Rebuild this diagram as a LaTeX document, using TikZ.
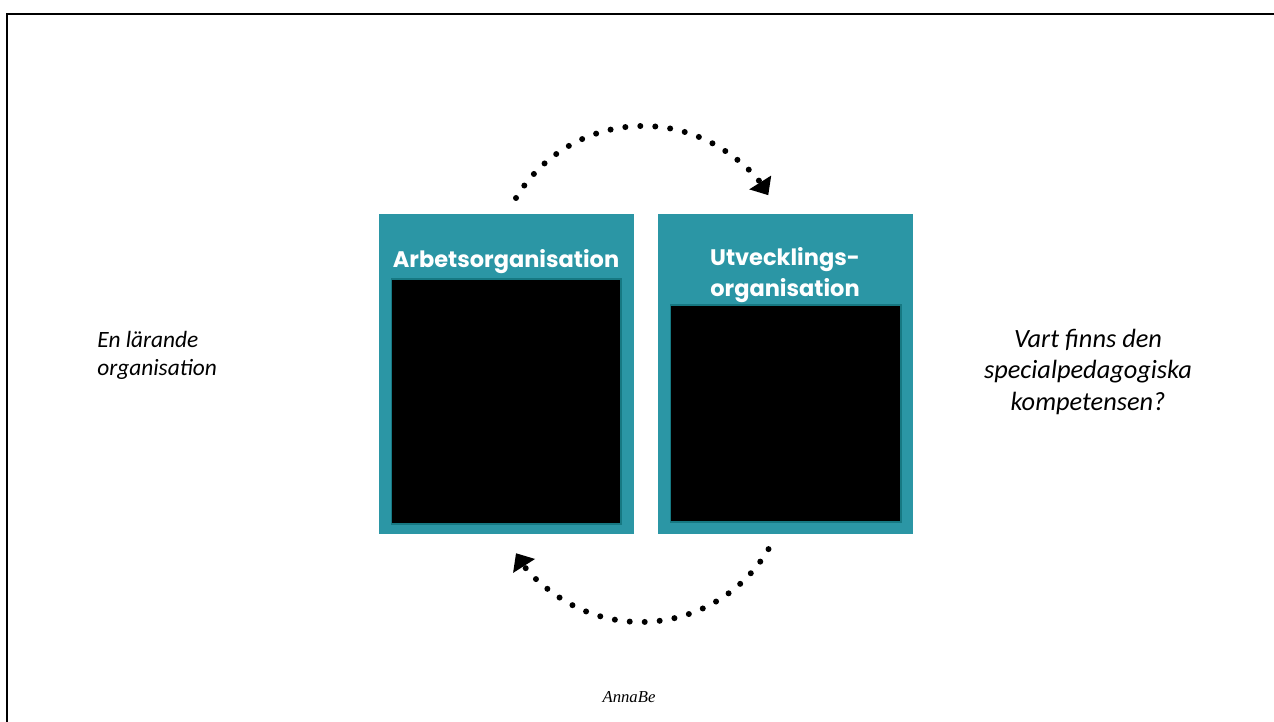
\documentclass[tikz,border=0pt]{standalone}
\usepackage{fontspec}
\setmainfont{Carlito}
\newfontfamily\headfont{Poppins}
\newfontfamily\signfont{Liberation Serif}
\usetikzlibrary{arrows.meta}
\definecolor{tealbg}{RGB}{43,150,165}
\definecolor{tealedge}{RGB}{22,120,130}
\begin{document}
\begin{tikzpicture}[x=0.02cm,y=-0.02cm,
  outerbox/.style={fill=tealbg, draw=none, inner sep=0, minimum width=5.1cm, minimum height=6.4cm},
  innerbox/.style={fill=black, draw=tealedge, line width=0.6pt, inner sep=0},
  head/.style={text=white, font=\headfont\bfseries\fontsize{12.8}{17.9}\selectfont, align=center, inner sep=0},
  side/.style={inner sep=0},
  dotarc/.style={line width=0.12cm, line cap=round, dash pattern=on 0pt off 0.3cm,
    -{Triangle[width=0.52cm,length=0.3cm,line width=0pt]}}]
\useasboundingbox (0,0) rectangle (1274,722);
\fill[white] (0,0) rectangle (1274,722);
\draw[line width=0.045cm] (6.7,722) -- (6.7,13.7) -- (1274,13.7);

% boxes
\node[outerbox] (arb) at (506.5,374) {};
\node[outerbox] (utv) at (785.5,374) {};
\node[innerbox, minimum width=4.6cm, minimum height=4.9cm] (arbin) at (506,401.5) {};
\node[innerbox, minimum width=4.62cm, minimum height=4.34cm] (utvin) at (785.5,413.5) {};

% headings (base anchor = last line)
\node[head, anchor=base] (arbh) at (506,268) {Arbetsorganisation};
\node[head, anchor=base] (utvh) at (785,296.5) {Utvecklings-\\organisation};

% cycle arrows
\coordinate (ts) at (516,198);
\draw[dotarc] (ts) arc[start angle=210.9, end angle=327.8, radius=148];
\coordinate (bs) at (768.5,549.1);
\draw[dotarc] (bs) arc[start angle=30.5, end angle=147.6, radius=148];

% side texts
\node[side, align=left, anchor=base west, font=\itshape\fontsize{13.3}{16.1}\selectfont] (lt) at (97,375.5) {En lärande\\organisation};
\node[side, align=center, anchor=base, font=\itshape\fontsize{15}{18}\selectfont] (rt) at (1088,410.5) {Vart finns den\\specialpedagogiska\\kompetensen?};

% signature
\node[font=\signfont\itshape\fontsize{9.5}{11}\selectfont, anchor=base, inner sep=0] (sig) at (629,702) {AnnaBe};
\end{tikzpicture}
\end{document}
